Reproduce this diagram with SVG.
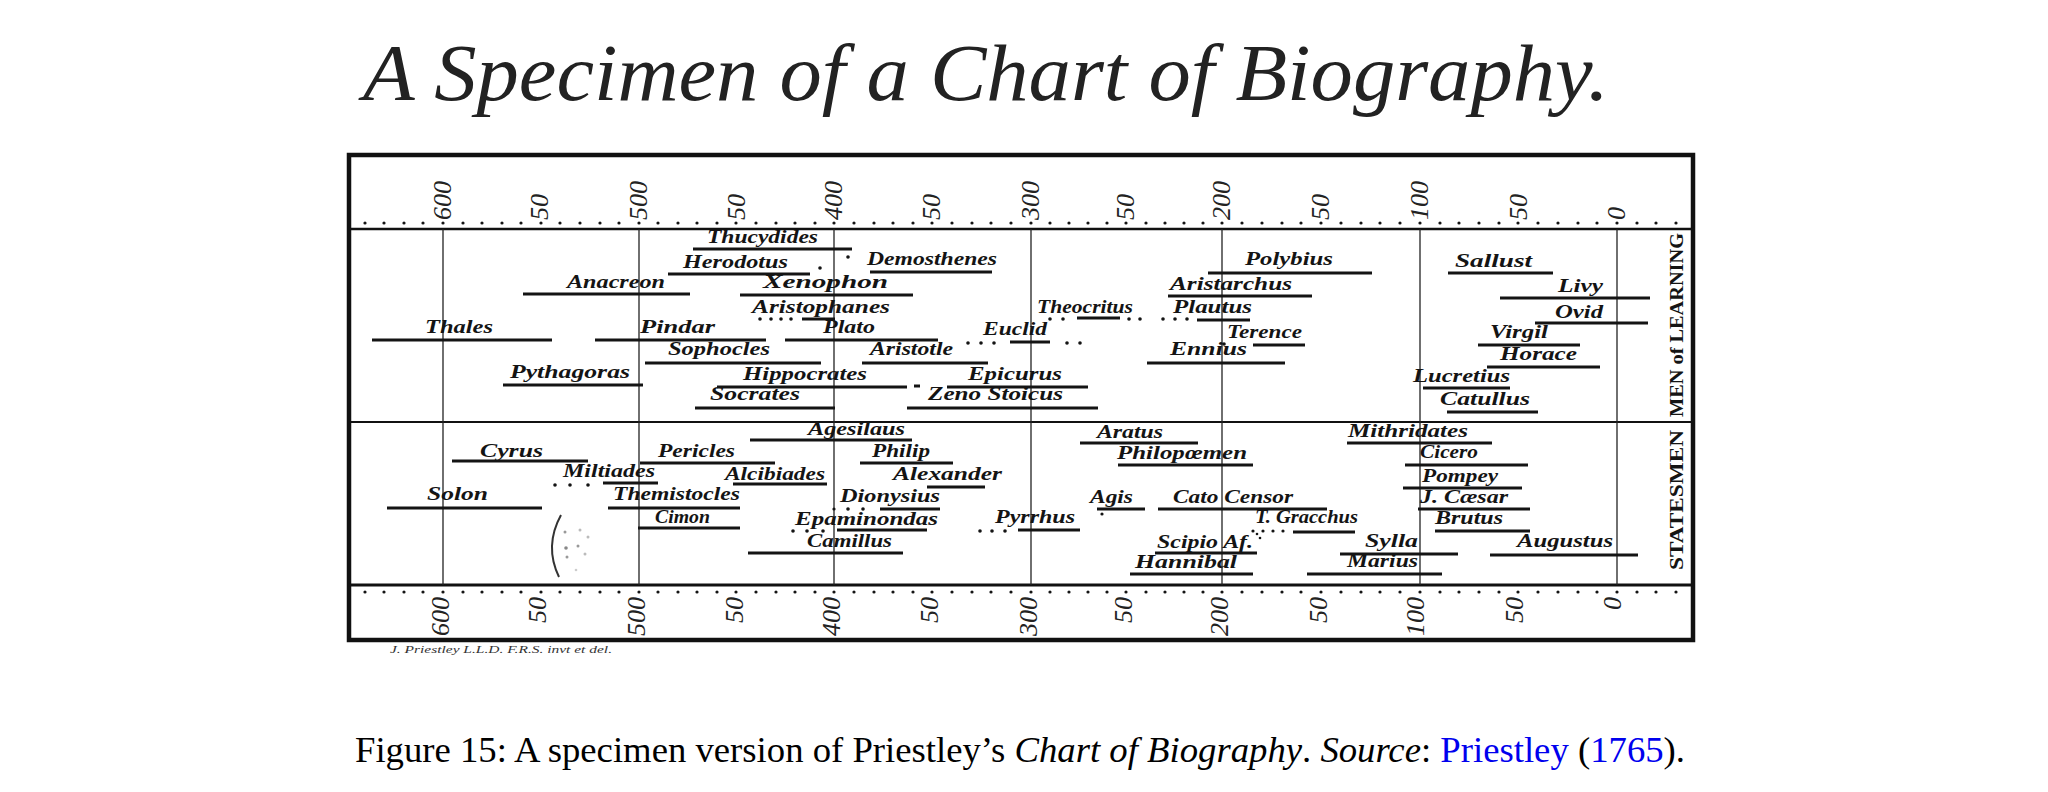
<svg xmlns="http://www.w3.org/2000/svg" width="2048" height="792" viewBox="0 0 2048 792">
<style>
.n{font-family:"Liberation Serif","Times New Roman",serif;font-style:italic;font-weight:bold;font-size:18px;fill:#141414}
.b{stroke:#141414;stroke-width:3;fill:none}
.d{fill:#141414}
.sc{font-family:"Liberation Serif","Times New Roman",serif;font-style:italic;font-size:26px;fill:#222}
.side{font-family:"Liberation Serif","Times New Roman",serif;font-weight:bold;font-size:19px;fill:#141414}
.frame{fill:none;stroke:#111}
.cent{stroke:#222;stroke-width:1.3}
</style>
<rect width="2048" height="792" fill="#fff"/>
<text x="363" y="100" font-family="Liberation Serif, serif" font-style="italic" font-size="80" fill="#222" textLength="1246" lengthAdjust="spacingAndGlyphs">A Specimen of a Chart of Biography.</text>
<g id="frame">
<rect class="frame" x="349" y="155" width="1344" height="485" stroke-width="4.5"/>
<line class="frame" x1="349" y1="229" x2="1693" y2="229" stroke-width="2.5"/>
<line class="frame" x1="349" y1="422" x2="1693" y2="422" stroke-width="2"/>
<line class="frame" x1="349" y1="585" x2="1693" y2="585" stroke-width="3"/>
<line class="cent" x1="443" y1="229" x2="443" y2="585"/>
<line class="cent" x1="639" y1="229" x2="639" y2="585"/>
<line class="cent" x1="834" y1="229" x2="834" y2="585"/>
<line class="cent" x1="1031" y1="229" x2="1031" y2="585"/>
<line class="cent" x1="1222" y1="229" x2="1222" y2="585"/>
<line class="cent" x1="1420" y1="229" x2="1420" y2="585"/>
<line class="cent" x1="1617" y1="229" x2="1617" y2="585"/>
</g>
<g id="scale-dots" class="d">
<circle cx="365" cy="223" r="1.6"/><circle cx="384" cy="223" r="1.6"/><circle cx="404" cy="223" r="1.6"/><circle cx="423" cy="223" r="1.6"/><circle cx="443" cy="223" r="1.6"/><circle cx="463" cy="223" r="1.6"/><circle cx="482" cy="223" r="1.6"/><circle cx="502" cy="223" r="1.6"/><circle cx="521" cy="223" r="1.6"/><circle cx="541" cy="223" r="1.6"/><circle cx="560" cy="223" r="1.6"/><circle cx="580" cy="223" r="1.6"/><circle cx="600" cy="223" r="1.6"/><circle cx="619" cy="223" r="1.6"/><circle cx="639" cy="223" r="1.6"/><circle cx="658" cy="223" r="1.6"/><circle cx="678" cy="223" r="1.6"/><circle cx="697" cy="223" r="1.6"/><circle cx="717" cy="223" r="1.6"/><circle cx="736" cy="223" r="1.6"/><circle cx="756" cy="223" r="1.6"/><circle cx="776" cy="223" r="1.6"/><circle cx="795" cy="223" r="1.6"/><circle cx="815" cy="223" r="1.6"/><circle cx="834" cy="223" r="1.6"/><circle cx="854" cy="223" r="1.6"/><circle cx="874" cy="223" r="1.6"/><circle cx="893" cy="223" r="1.6"/><circle cx="913" cy="223" r="1.6"/><circle cx="932" cy="223" r="1.6"/><circle cx="952" cy="223" r="1.6"/><circle cx="972" cy="223" r="1.6"/><circle cx="991" cy="223" r="1.6"/><circle cx="1011" cy="223" r="1.6"/><circle cx="1031" cy="223" r="1.6"/><circle cx="1050" cy="223" r="1.6"/><circle cx="1069" cy="223" r="1.6"/><circle cx="1088" cy="223" r="1.6"/><circle cx="1107" cy="223" r="1.6"/><circle cx="1126" cy="223" r="1.6"/><circle cx="1146" cy="223" r="1.6"/><circle cx="1165" cy="223" r="1.6"/><circle cx="1184" cy="223" r="1.6"/><circle cx="1203" cy="223" r="1.6"/><circle cx="1222" cy="223" r="1.6"/><circle cx="1242" cy="223" r="1.6"/><circle cx="1262" cy="223" r="1.6"/><circle cx="1282" cy="223" r="1.6"/><circle cx="1301" cy="223" r="1.6"/><circle cx="1321" cy="223" r="1.6"/><circle cx="1341" cy="223" r="1.6"/><circle cx="1361" cy="223" r="1.6"/><circle cx="1380" cy="223" r="1.6"/><circle cx="1400" cy="223" r="1.6"/><circle cx="1420" cy="223" r="1.6"/><circle cx="1440" cy="223" r="1.6"/><circle cx="1459" cy="223" r="1.6"/><circle cx="1479" cy="223" r="1.6"/><circle cx="1499" cy="223" r="1.6"/><circle cx="1518" cy="223" r="1.6"/><circle cx="1538" cy="223" r="1.6"/><circle cx="1558" cy="223" r="1.6"/><circle cx="1578" cy="223" r="1.6"/><circle cx="1597" cy="223" r="1.6"/><circle cx="1617" cy="223" r="1.6"/><circle cx="1637" cy="223" r="1.6"/><circle cx="1656" cy="223" r="1.6"/><circle cx="1676" cy="223" r="1.6"/>
<circle cx="365" cy="592" r="1.6"/><circle cx="384" cy="592" r="1.6"/><circle cx="404" cy="592" r="1.6"/><circle cx="423" cy="592" r="1.6"/><circle cx="443" cy="592" r="1.6"/><circle cx="463" cy="592" r="1.6"/><circle cx="482" cy="592" r="1.6"/><circle cx="502" cy="592" r="1.6"/><circle cx="521" cy="592" r="1.6"/><circle cx="541" cy="592" r="1.6"/><circle cx="560" cy="592" r="1.6"/><circle cx="580" cy="592" r="1.6"/><circle cx="600" cy="592" r="1.6"/><circle cx="619" cy="592" r="1.6"/><circle cx="639" cy="592" r="1.6"/><circle cx="658" cy="592" r="1.6"/><circle cx="678" cy="592" r="1.6"/><circle cx="697" cy="592" r="1.6"/><circle cx="717" cy="592" r="1.6"/><circle cx="736" cy="592" r="1.6"/><circle cx="756" cy="592" r="1.6"/><circle cx="776" cy="592" r="1.6"/><circle cx="795" cy="592" r="1.6"/><circle cx="815" cy="592" r="1.6"/><circle cx="834" cy="592" r="1.6"/><circle cx="854" cy="592" r="1.6"/><circle cx="874" cy="592" r="1.6"/><circle cx="893" cy="592" r="1.6"/><circle cx="913" cy="592" r="1.6"/><circle cx="932" cy="592" r="1.6"/><circle cx="952" cy="592" r="1.6"/><circle cx="972" cy="592" r="1.6"/><circle cx="991" cy="592" r="1.6"/><circle cx="1011" cy="592" r="1.6"/><circle cx="1031" cy="592" r="1.6"/><circle cx="1050" cy="592" r="1.6"/><circle cx="1069" cy="592" r="1.6"/><circle cx="1088" cy="592" r="1.6"/><circle cx="1107" cy="592" r="1.6"/><circle cx="1126" cy="592" r="1.6"/><circle cx="1146" cy="592" r="1.6"/><circle cx="1165" cy="592" r="1.6"/><circle cx="1184" cy="592" r="1.6"/><circle cx="1203" cy="592" r="1.6"/><circle cx="1222" cy="592" r="1.6"/><circle cx="1242" cy="592" r="1.6"/><circle cx="1262" cy="592" r="1.6"/><circle cx="1282" cy="592" r="1.6"/><circle cx="1301" cy="592" r="1.6"/><circle cx="1321" cy="592" r="1.6"/><circle cx="1341" cy="592" r="1.6"/><circle cx="1361" cy="592" r="1.6"/><circle cx="1380" cy="592" r="1.6"/><circle cx="1400" cy="592" r="1.6"/><circle cx="1420" cy="592" r="1.6"/><circle cx="1440" cy="592" r="1.6"/><circle cx="1459" cy="592" r="1.6"/><circle cx="1479" cy="592" r="1.6"/><circle cx="1499" cy="592" r="1.6"/><circle cx="1518" cy="592" r="1.6"/><circle cx="1538" cy="592" r="1.6"/><circle cx="1558" cy="592" r="1.6"/><circle cx="1578" cy="592" r="1.6"/><circle cx="1597" cy="592" r="1.6"/><circle cx="1617" cy="592" r="1.6"/><circle cx="1637" cy="592" r="1.6"/><circle cx="1656" cy="592" r="1.6"/><circle cx="1676" cy="592" r="1.6"/>
</g>
<g id="scale-top" class="sc">
<text transform="translate(451,220) rotate(-90)">600</text>
<text transform="translate(548,220) rotate(-90)">50</text>
<text transform="translate(647,220) rotate(-90)">500</text>
<text transform="translate(745,220) rotate(-90)">50</text>
<text transform="translate(842,220) rotate(-90)">400</text>
<text transform="translate(940,220) rotate(-90)">50</text>
<text transform="translate(1039,220) rotate(-90)">300</text>
<text transform="translate(1134,220) rotate(-90)">50</text>
<text transform="translate(1230,220) rotate(-90)">200</text>
<text transform="translate(1329,220) rotate(-90)">50</text>
<text transform="translate(1428,220) rotate(-90)">100</text>
<text transform="translate(1527,220) rotate(-90)">50</text>
<text transform="translate(1625,220) rotate(-90)">0</text>
</g>
<g id="scale-bottom" class="sc" text-anchor="end">
<text transform="translate(449,597) rotate(-90)">600</text>
<text transform="translate(546,597) rotate(-90)">50</text>
<text transform="translate(645,597) rotate(-90)">500</text>
<text transform="translate(743,597) rotate(-90)">50</text>
<text transform="translate(840,597) rotate(-90)">400</text>
<text transform="translate(938,597) rotate(-90)">50</text>
<text transform="translate(1037,597) rotate(-90)">300</text>
<text transform="translate(1132,597) rotate(-90)">50</text>
<text transform="translate(1228,597) rotate(-90)">200</text>
<text transform="translate(1327,597) rotate(-90)">50</text>
<text transform="translate(1424,597) rotate(-90)">100</text>
<text transform="translate(1523,597) rotate(-90)">50</text>
<text transform="translate(1621,597) rotate(-90)">0</text>
</g>
<g id="side-labels" class="side" text-anchor="middle">
<text transform="translate(1683,325) rotate(-90)" textLength="184" lengthAdjust="spacingAndGlyphs">MEN of LEARNING</text>
<text transform="translate(1683,500) rotate(-90)" textLength="140" lengthAdjust="spacingAndGlyphs">STATESMEN</text>
</g>
<g id="connectors"/>
<g id="thucydides"><text class="n" x="707" y="243" textLength="111" lengthAdjust="spacingAndGlyphs">Thucydides</text><line class="b" x1="693" y1="249" x2="852" y2="249"/><circle class="d" cx="848" cy="257" r="1.8"/></g>
<g id="herodotus"><text class="n" x="683" y="268" textLength="105" lengthAdjust="spacingAndGlyphs">Herodotus</text><line class="b" x1="668" y1="274" x2="810" y2="274"/><circle class="d" cx="820" cy="268" r="1.8"/></g>
<g id="demosthenes"><text class="n" x="867" y="265" textLength="130" lengthAdjust="spacingAndGlyphs">Demosthenes</text><line class="b" x1="870" y1="272" x2="992" y2="272"/></g>
<g id="anacreon"><text class="n" x="567" y="288" textLength="98" lengthAdjust="spacingAndGlyphs">Anacreon</text><line class="b" x1="523" y1="294" x2="690" y2="294"/></g>
<g id="xenophon"><text class="n" x="763" y="288" textLength="125" lengthAdjust="spacingAndGlyphs">Xenophon</text><line class="b" x1="740" y1="295" x2="913" y2="295"/></g>
<g id="aristophanes"><text class="n" x="752" y="313" textLength="138" lengthAdjust="spacingAndGlyphs">Aristophanes</text><circle class="d" cx="760" cy="319" r="1.8"/><circle class="d" cx="771" cy="319" r="1.8"/><circle class="d" cx="781" cy="319" r="1.8"/><circle class="d" cx="791" cy="319" r="1.8"/><line class="b" x1="802" y1="319" x2="835" y2="319"/></g>
<g id="theocritus"><text class="n" x="1037" y="313" textLength="96" lengthAdjust="spacingAndGlyphs">Theocritus</text><circle class="d" cx="1050" cy="319" r="1.8"/><circle class="d" cx="1063" cy="319" r="1.8"/><line class="b" x1="1077" y1="318" x2="1120" y2="318"/><circle class="d" cx="1129" cy="319" r="1.8"/><circle class="d" cx="1140" cy="319" r="1.8"/></g>
<g id="plautus"><text class="n" x="1173" y="313" textLength="79" lengthAdjust="spacingAndGlyphs">Plautus</text><circle class="d" cx="1163" cy="319" r="1.8"/><circle class="d" cx="1175" cy="319" r="1.8"/><circle class="d" cx="1187" cy="319" r="1.8"/><line class="b" x1="1197" y1="320" x2="1250" y2="320"/></g>
<g id="thales"><text class="n" x="425" y="333" textLength="68" lengthAdjust="spacingAndGlyphs">Thales</text><line class="b" x1="372" y1="340" x2="552" y2="340"/></g>
<g id="pindar"><text class="n" x="640" y="333" textLength="75" lengthAdjust="spacingAndGlyphs">Pindar</text><line class="b" x1="595" y1="340" x2="766" y2="340"/></g>
<g id="plato"><text class="n" x="823" y="333" textLength="52" lengthAdjust="spacingAndGlyphs">Plato</text><line class="b" x1="785" y1="340" x2="938" y2="340"/></g>
<g id="euclid"><text class="n" x="983" y="335" textLength="64" lengthAdjust="spacingAndGlyphs">Euclid</text><circle class="d" cx="968" cy="343" r="1.8"/><circle class="d" cx="981" cy="343" r="1.8"/><circle class="d" cx="994" cy="343" r="1.8"/><line class="b" x1="1010" y1="342" x2="1050" y2="342"/><circle class="d" cx="1067" cy="343" r="1.8"/><circle class="d" cx="1080" cy="343" r="1.8"/></g>
<g id="terence"><text class="n" x="1227" y="338" textLength="75" lengthAdjust="spacingAndGlyphs">Terence</text><circle class="d" cx="1224" cy="344" r="1.8"/><line class="b" x1="1253" y1="345" x2="1305" y2="345"/></g>
<g id="sophocles"><text class="n" x="668" y="355" textLength="102" lengthAdjust="spacingAndGlyphs">Sophocles</text><line class="b" x1="645" y1="363" x2="821" y2="363"/></g>
<g id="aristotle"><text class="n" x="870" y="355" textLength="83" lengthAdjust="spacingAndGlyphs">Aristotle</text><line class="b" x1="862" y1="363" x2="988" y2="363"/></g>
<g id="ennius"><text class="n" x="1170" y="355" textLength="77" lengthAdjust="spacingAndGlyphs">Ennius</text><line class="b" x1="1147" y1="363" x2="1285" y2="363"/></g>
<g id="pythagoras"><text class="n" x="510" y="378" textLength="120" lengthAdjust="spacingAndGlyphs">Pythagoras</text><line class="b" x1="503" y1="385" x2="643" y2="385"/></g>
<g id="hippocrates"><text class="n" x="743" y="380" textLength="124" lengthAdjust="spacingAndGlyphs">Hippocrates</text><line class="b" x1="717" y1="387" x2="907" y2="387"/><line class="b" x1="914" y1="386" x2="920" y2="386"/></g>
<g id="epicurus"><text class="n" x="968" y="380" textLength="94" lengthAdjust="spacingAndGlyphs">Epicurus</text><line class="b" x1="947" y1="387" x2="1088" y2="387"/></g>
<g id="socrates"><text class="n" x="710" y="400" textLength="90" lengthAdjust="spacingAndGlyphs">Socrates</text><line class="b" x1="695" y1="408" x2="835" y2="408"/></g>
<g id="zeno"><text class="n" x="928" y="400" textLength="135" lengthAdjust="spacingAndGlyphs">Zeno Stoicus</text><line class="b" x1="907" y1="408" x2="1098" y2="408"/></g>
<g id="polybius"><text class="n" x="1245" y="265" textLength="88" lengthAdjust="spacingAndGlyphs">Polybius</text><line class="b" x1="1208" y1="273" x2="1372" y2="273"/></g>
<g id="aristarchus"><text class="n" x="1170" y="290" textLength="122" lengthAdjust="spacingAndGlyphs">Aristarchus</text><line class="b" x1="1168" y1="296" x2="1312" y2="296"/></g>
<g id="sallust"><text class="n" x="1455" y="267" textLength="77" lengthAdjust="spacingAndGlyphs">Sallust</text><line class="b" x1="1448" y1="273" x2="1553" y2="273"/></g>
<g id="livy"><text class="n" x="1558" y="292" textLength="45" lengthAdjust="spacingAndGlyphs">Livy</text><line class="b" x1="1500" y1="298" x2="1650" y2="298"/></g>
<g id="ovid"><text class="n" x="1555" y="318" textLength="48" lengthAdjust="spacingAndGlyphs">Ovid</text><line class="b" x1="1535" y1="323" x2="1648" y2="323"/></g>
<g id="virgil"><text class="n" x="1490" y="338" textLength="58" lengthAdjust="spacingAndGlyphs">Virgil</text><line class="b" x1="1478" y1="345" x2="1580" y2="345"/></g>
<g id="horace"><text class="n" x="1500" y="360" textLength="77" lengthAdjust="spacingAndGlyphs">Horace</text><line class="b" x1="1487" y1="367" x2="1600" y2="367"/></g>
<g id="lucretius"><text class="n" x="1413" y="382" textLength="97" lengthAdjust="spacingAndGlyphs">Lucretius</text><line class="b" x1="1423" y1="388" x2="1510" y2="388"/></g>
<g id="catullus"><text class="n" x="1440" y="405" textLength="90" lengthAdjust="spacingAndGlyphs">Catullus</text><line class="b" x1="1447" y1="412" x2="1538" y2="412"/></g>
<g id="cyrus"><text class="n" x="480" y="457" textLength="63" lengthAdjust="spacingAndGlyphs">Cyrus</text><line class="b" x1="452" y1="461" x2="588" y2="461"/></g>
<g id="pericles"><text class="n" x="658" y="457" textLength="77" lengthAdjust="spacingAndGlyphs">Pericles</text><line class="b" x1="640" y1="463" x2="775" y2="463"/></g>
<g id="agesilaus"><text class="n" x="808" y="435" textLength="97" lengthAdjust="spacingAndGlyphs">Agesilaus</text><line class="b" x1="750" y1="440" x2="912" y2="440"/></g>
<g id="philip"><text class="n" x="872" y="457" textLength="58" lengthAdjust="spacingAndGlyphs">Philip</text><line class="b" x1="860" y1="463" x2="953" y2="463"/></g>
<g id="miltiades"><text class="n" x="563" y="477" textLength="92" lengthAdjust="spacingAndGlyphs">Miltiades</text><circle class="d" cx="555" cy="485" r="1.8"/><circle class="d" cx="570" cy="485" r="1.8"/><circle class="d" cx="588" cy="485" r="1.8"/><line class="b" x1="603" y1="483" x2="658" y2="483"/></g>
<g id="alcibiades"><text class="n" x="725" y="480" textLength="100" lengthAdjust="spacingAndGlyphs">Alcibiades</text><line class="b" x1="733" y1="484" x2="827" y2="484"/></g>
<g id="alexander"><text class="n" x="893" y="480" textLength="109" lengthAdjust="spacingAndGlyphs">Alexander</text><line class="b" x1="927" y1="487" x2="985" y2="487"/></g>
<g id="solon"><text class="n" x="427" y="500" textLength="61" lengthAdjust="spacingAndGlyphs">Solon</text><line class="b" x1="387" y1="508" x2="542" y2="508"/></g>
<g id="themistocles"><text class="n" x="613" y="500" textLength="127" lengthAdjust="spacingAndGlyphs">Themistocles</text><line class="b" x1="608" y1="508" x2="740" y2="508"/></g>
<g id="dionysius"><text class="n" x="840" y="502" textLength="100" lengthAdjust="spacingAndGlyphs">Dionysius</text><circle class="d" cx="834" cy="509" r="1.6"/><circle class="d" cx="848" cy="509" r="1.8"/><circle class="d" cx="863" cy="509" r="1.8"/><line class="b" x1="880" y1="509" x2="940" y2="509"/></g>
<g id="cimon"><text class="n" x="655" y="523" textLength="55" lengthAdjust="spacingAndGlyphs">Cimon</text><line class="b" x1="638" y1="528" x2="740" y2="528"/></g>
<g id="epaminondas"><text class="n" x="795" y="525" textLength="143" lengthAdjust="spacingAndGlyphs">Epaminondas</text><circle class="d" cx="793" cy="531" r="1.8"/><circle class="d" cx="807" cy="531" r="1.8"/><circle class="d" cx="823" cy="531" r="1.8"/><line class="b" x1="837" y1="530" x2="927" y2="530"/></g>
<g id="camillus"><text class="n" x="807" y="547" textLength="85" lengthAdjust="spacingAndGlyphs">Camillus</text><line class="b" x1="748" y1="553" x2="903" y2="553"/></g>
<g id="pyrrhus"><text class="n" x="995" y="523" textLength="80" lengthAdjust="spacingAndGlyphs">Pyrrhus</text><circle class="d" cx="980" cy="531" r="1.8"/><circle class="d" cx="992" cy="531" r="1.8"/><circle class="d" cx="1005" cy="531" r="1.8"/><line class="b" x1="1018" y1="530" x2="1080" y2="530"/></g>
<g id="aratus"><text class="n" x="1097" y="438" textLength="66" lengthAdjust="spacingAndGlyphs">Aratus</text><line class="b" x1="1080" y1="443" x2="1198" y2="443"/></g>
<g id="philopoemen"><text class="n" x="1117" y="459" textLength="130" lengthAdjust="spacingAndGlyphs">Philopœmen</text><line class="b" x1="1118" y1="465" x2="1253" y2="465"/></g>
<g id="agis"><text class="n" x="1090" y="503" textLength="43" lengthAdjust="spacingAndGlyphs">Agis</text><line class="b" x1="1097" y1="509" x2="1145" y2="509"/><circle class="d" cx="1102" cy="514" r="1.6"/></g>
<g id="cato"><text class="n" x="1173" y="503" textLength="120" lengthAdjust="spacingAndGlyphs">Cato  Censor</text><line class="b" x1="1158" y1="509" x2="1327" y2="509"/></g>
<g id="gracchus"><text class="n" x="1255" y="523" textLength="103" lengthAdjust="spacingAndGlyphs">T. Gracchus</text><circle class="d" cx="1253" cy="531" r="1.6"/><circle class="d" cx="1263" cy="531" r="1.6"/><circle class="d" cx="1273" cy="531" r="1.6"/><circle class="d" cx="1283" cy="531" r="1.6"/><line class="b" x1="1293" y1="532" x2="1355" y2="532"/></g>
<g id="scipio"><text class="n" x="1157" y="548" textLength="96" lengthAdjust="spacingAndGlyphs">Scipio  Af.</text><line class="b" x1="1155" y1="553" x2="1257" y2="553"/><circle class="d" cx="1257" cy="534" r="1.3"/><circle class="d" cx="1260" cy="538" r="1.3"/></g>
<g id="hannibal"><text class="n" x="1135" y="568" textLength="102" lengthAdjust="spacingAndGlyphs">Hannibal</text><line class="b" x1="1130" y1="574" x2="1253" y2="574"/></g>
<g id="mithridates"><text class="n" x="1348" y="437" textLength="120" lengthAdjust="spacingAndGlyphs">Mithridates</text><line class="b" x1="1347" y1="443" x2="1492" y2="443"/></g>
<g id="cicero"><text class="n" x="1420" y="458" textLength="58" lengthAdjust="spacingAndGlyphs">Cicero</text><line class="b" x1="1405" y1="465" x2="1528" y2="465"/></g>
<g id="pompey"><text class="n" x="1422" y="482" textLength="76" lengthAdjust="spacingAndGlyphs">Pompey</text><line class="b" x1="1403" y1="488" x2="1522" y2="488"/></g>
<g id="caesar"><text class="n" x="1420" y="503" textLength="88" lengthAdjust="spacingAndGlyphs">J. Cæsar</text><line class="b" x1="1418" y1="509" x2="1530" y2="509"/></g>
<g id="brutus"><text class="n" x="1435" y="524" textLength="68" lengthAdjust="spacingAndGlyphs">Brutus</text><line class="b" x1="1435" y1="531" x2="1530" y2="531"/></g>
<g id="sylla"><text class="n" x="1365" y="547" textLength="53" lengthAdjust="spacingAndGlyphs">Sylla</text><line class="b" x1="1340" y1="554" x2="1458" y2="554"/></g>
<g id="marius"><text class="n" x="1347" y="567" textLength="71" lengthAdjust="spacingAndGlyphs">Marius</text><line class="b" x1="1307" y1="574" x2="1442" y2="574"/></g>
<g id="augustus"><text class="n" x="1517" y="547" textLength="96" lengthAdjust="spacingAndGlyphs">Augustus</text><line class="b" x1="1490" y1="555" x2="1638" y2="555"/></g>
<g id="stamp">
<path d="M561,515 Q544,546 559,577" fill="none" stroke="#333" stroke-width="2"/>
<circle cx="565" cy="532" r="1.5" fill="#999"/><circle cx="580" cy="530" r="1.5" fill="#bbb"/><circle cx="588" cy="537" r="1.5" fill="#bbb"/><circle cx="566" cy="548" r="1.8" fill="#888"/><circle cx="578" cy="546" r="1.5" fill="#999"/><circle cx="567" cy="557" r="1.5" fill="#999"/><circle cx="585" cy="554" r="1.5" fill="#bbb"/><circle cx="576" cy="570" r="1.3" fill="#ccc"/>
</g>
<text x="390" y="653" font-family="Liberation Serif, serif" font-style="italic" font-size="10" fill="#333" textLength="222" lengthAdjust="spacingAndGlyphs">J. Priestley L.L.D. F.R.S. invt et del.</text>
<text x="355" y="762" font-family="Liberation Serif, Times New Roman, serif" font-size="36" fill="#000" textLength="1330" lengthAdjust="spacingAndGlyphs">Figure 15: A specimen version of Priestley’s <tspan font-style="italic">Chart of Biography</tspan>. <tspan font-style="italic">Source</tspan>: <tspan fill="#0000ee">Priestley</tspan> (<tspan fill="#0000ee">1765</tspan>).</text>
</svg>
